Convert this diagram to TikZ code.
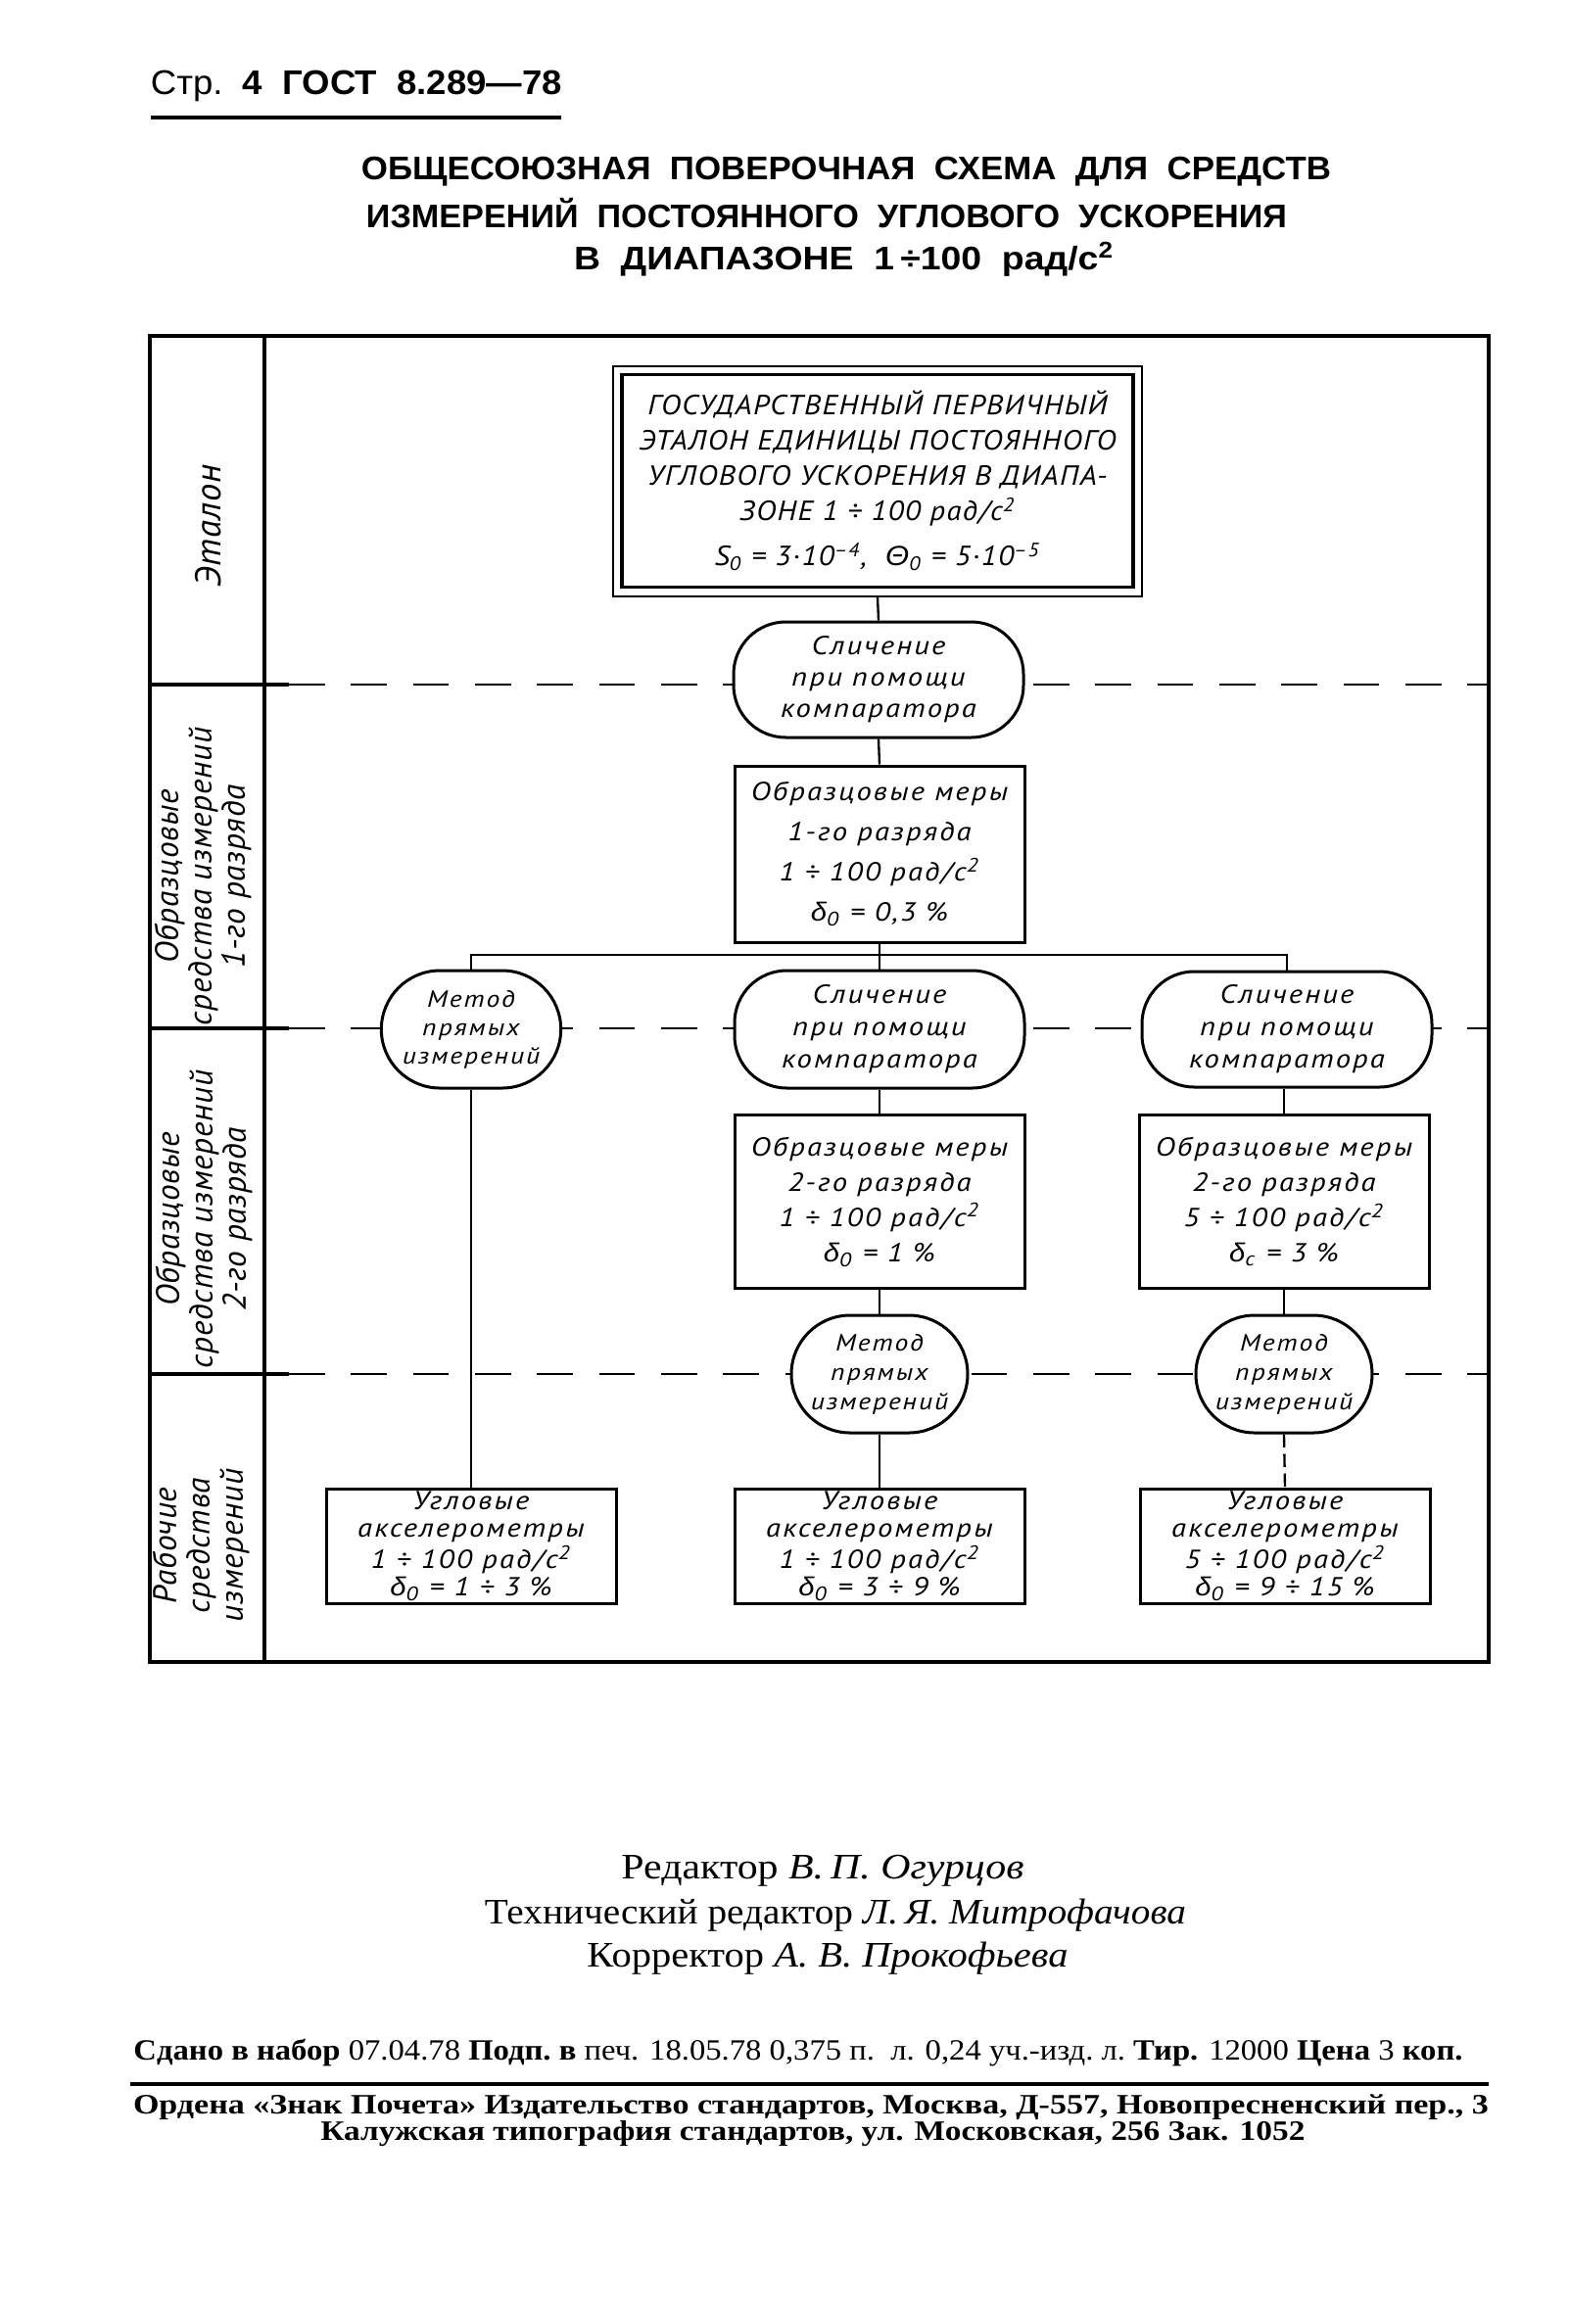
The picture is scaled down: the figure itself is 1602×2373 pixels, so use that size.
\documentclass[tikz,border=0pt]{standalone}
\usepackage{fontspec}
\usepackage{graphicx}
\setmainfont{Liberation Serif}
\newfontfamily\hand[FakeStretch=1.15,LetterSpace=8]{PT Sans}
\newfontfamily\handB[FakeStretch=1.08,LetterSpace=5]{PT Sans}
\newfontfamily\grk[FakeStretch=1.1]{Liberation Sans}
\newfontfamily\lbl[LetterSpace=2]{PT Sans}
\newfontfamily\tsans{Liberation Sans}
\newcommand\fw[2]{\resizebox{\dimexpr0.3pt*#1\relax}{\height}{#2}}
\newcommand\dz[1]{{\grk\itshape δ}\textsubscript{#1}}
\newcommand\sq{\textsuperscript{2}}
\begin{document}
\begin{tikzpicture}[x=0.3pt,y=-0.3pt,
  every node/.style={inner sep=0pt},
  frameline/.style={line width=1pt},
  bandsolid/.style={line width=1pt},
  banddash/.style={line width=0.8pt, dash pattern=on 11pt off 8pt},
  conn/.style={line width=0.7pt},
  hf/.style 2 args={font=\hand\itshape\fontsize{#1}{#2}\selectfont},
  boxn/.style={draw, line width=0.9pt, fill=white, align=center, minimum width=88.8pt},
  rshape/.style={boxn, rounded corners=16pt},
  oshape/.style={boxn, rounded corners=18pt, minimum width=54pt, minimum height=36pt},
  lab/.style={rotate=90, align=center, font=\lbl\itshape\fontsize{10}{10.2}\selectfont},
]
\fill[white] (0,0) rectangle (1602,2373);
\useasboundingbox (0,0) rectangle (1602,2373);

% ---------- header and title ----------
\node (hdr) at (364,88) {\fw{420}{\tsans\fontsize{10.5}{12}\selectfont Стр.\ \ \bfseries 4\ \ ГОСТ\ \ 8.289—78}};
\draw[line width=1pt] (154,120) -- (573,120);
\node (t1) at (864,175) {\fw{990}{\tsans\bfseries\fontsize{10}{11}\selectfont ОБЩЕСОЮЗНАЯ\ \ ПОВЕРОЧНАЯ\ \ СХЕМА\ \ ДЛЯ\ \ СРЕДСТВ}};
\node (t2) at (844,218) {\fw{940}{\tsans\bfseries\fontsize{10}{11}\selectfont ИЗМЕРЕНИЙ\ \ ПОСТОЯННОГО\ \ УГЛОВОГО\ \ УСКОРЕНИЯ}};
\node (t3) at (862,265) {\fw{552}{\tsans\bfseries\fontsize{10}{11}\selectfont В\ \ ДИАПАЗОНЕ\ \ 1\,÷100\ \ рад/с\textsuperscript{2}}};

% ---------- frame and bands ----------
\draw[frameline] (153,343) rectangle (1520,1697);
\draw[frameline] (270,343) -- (270,1697);
\foreach \yy in {699,1050,1403}{
  \draw[bandsolid] (153,\yy) -- (295,\yy);
  \draw[banddash] (295,\yy) -- (1520,\yy);
}

% ---------- nodes ----------
\node[draw, line width=0.6pt, fill=white, minimum width=162pt, minimum height=70.5pt,
      align=center, font=\handB\itshape\fontsize{8.5}{10.8}\selectfont] (et) at (896,491)
  {ГОСУДАРСТВЕННЫЙ ПЕРВИЧНЫЙ\\ЭТАЛОН ЕДИНИЦЫ ПОСТОЯННОГО\\УГЛОВОГО УСКОРЕНИЯ В ДИАПА-\\ЗОНЕ 1 ÷ 100 рад/с\sq\\[3pt]S\textsubscript{0} = 3·10\textsuperscript{–4},\ \ {\grk\itshape Θ}\textsubscript{0} = 5·10\textsuperscript{–5}};
\draw[line width=1pt] ([shift={(10,10)}]et.north west) rectangle ([shift={(-10,-10)}]et.south east);

\node[rshape, minimum height=35.4pt, hf={8}{9.6}] (cmp0) at (897,694) {Сличение\\при помощи\\компаратора};
\node[boxn, minimum height=54pt, hf={8}{12.3}] (m1) at (898,872) {Образцовые меры\\1-го разряда\\1 ÷ 100 рад/с\sq\\\dz{0} = 0,3 \%};

\node[oshape, minimum width=55pt, hf={7.2}{8.7}] (met1) at (481,1051) {Метод\\прямых\\измерений};
\node[rshape, minimum height=36pt, hf={8}{9.9}] (cmp1) at (898,1051) {Сличение\\при помощи\\компаратора};
\node[rshape, minimum height=35.4pt, hf={8}{9.9}] (cmp2) at (1314,1051) {Сличение\\при помощи\\компаратора};

\node[boxn, minimum height=53.1pt, hf={8}{10.8}] (m2a) at (898,1227) {Образцовые меры\\2-го разряда\\1 ÷ 100 рад/с\sq\\\dz{0} = 1 \%};
\node[boxn, minimum height=53.1pt, hf={8}{10.8}] (m2b) at (1311,1227) {Образцовые меры\\2-го разряда\\5 ÷ 100 рад/с\sq\\\dz{c} = 3 \%};

\node[oshape, hf={7.2}{9}] (met2) at (898,1403) {Метод\\прямых\\измерений};
\node[oshape, hf={7.2}{9}] (met3) at (1311,1403) {Метод\\прямых\\измерений};

\node[boxn, minimum height=35.1pt, hf={8}{8.4}] (w1) at (481,1579) {Угловые\\акселерометры\\1 ÷ 100 рад/с\sq\\\dz{0} = 1 ÷ 3 \%};
\node[boxn, minimum height=35.1pt, hf={8}{8.4}] (w2) at (898,1579) {Угловые\\акселерометры\\1 ÷ 100 рад/с\sq\\\dz{0} = 3 ÷ 9 \%};
\node[boxn, minimum height=35.1pt, hf={8}{8.4}] (w3) at (1312,1579) {Угловые\\акселерометры\\5 ÷ 100 рад/с\sq\\\dz{0} = 9 ÷ 15 \%};

% ---------- connectors ----------
\coordinate (br) at (898,975);
\draw[conn] (et.south) -- (cmp0.north);
\draw[conn] (cmp0.south) -- (m1.north);
\draw[conn] (m1.south) -- (cmp1.north);
\draw[conn] (met1.north) |- (br) -| (cmp2.north);
\draw[conn] (cmp1.south) -- (m2a.north);
\draw[conn] (cmp2.south -| m2b.north) -- (m2b.north);
\draw[conn] (m2a.south) -- (met2.north);
\draw[conn] (m2b.south) -- (met3.north);
\draw[conn] (met1.south) -- (w1.north);
\draw[conn] (met2.south) -- (w2.north);
\draw[conn, dash pattern=on 4pt off 2pt] (met3.south) -- (w3.north);

% ---------- band labels ----------
\node[lab, font=\lbl\itshape\fontsize{11}{10}\selectfont] (l1) at (213,537) {Эталон};
\node[lab] (l2) at (207,895) {Образцовые\\средства измерений\\1-го разряда};
\node[lab] (l3) at (208,1245) {Образцовые\\средства измерений\\2-го разряда};
\node[lab] (l4) at (205,1578) {Рабочие\\средства\\измерений};

% ---------- footer ----------
\node (f1) at (840,1910) {\fw{411}{\fontsize{11}{13}\selectfont Редактор \itshape В.\,П. Огурцов}};
\node (f2) at (853,1956) {\fw{716}{\fontsize{11}{13}\selectfont Технический редактор \itshape Л.\,Я. Митрофачова}};
\node (f3) at (845,2000) {\fw{491}{\fontsize{11}{13}\selectfont Корректор \itshape А. В. Прокофьева}};
\node (f4) at (815,2096) {\fw{1357}{\fontsize{9}{11}\selectfont\bfseries Сдано\ в\ набор \mdseries 07.04.78 \bfseries Подп.\ в\ \mdseries печ. 18.05.78 0,375 п.\ \ л. 0,24 уч.-изд.\ л.\ \bfseries Тир. \mdseries 12000\ \bfseries Цена \mdseries 3 \bfseries коп.}};
\draw[line width=1pt] (133,2128) -- (1520,2128);
\node (f5) at (828,2152) {\fw{1384}{\fontsize{8.6}{11}\selectfont\bfseries Ордена «Знак Почета» Издательство стандартов, Москва, Д-557, Новопресненский пер., 3}};
\node (f6) at (830,2179) {\fw{1005}{\fontsize{8.6}{11}\selectfont\bfseries Калужская типография стандартов, ул. Московская, 256 Зак. 1052}};
\end{tikzpicture}
\end{document}
